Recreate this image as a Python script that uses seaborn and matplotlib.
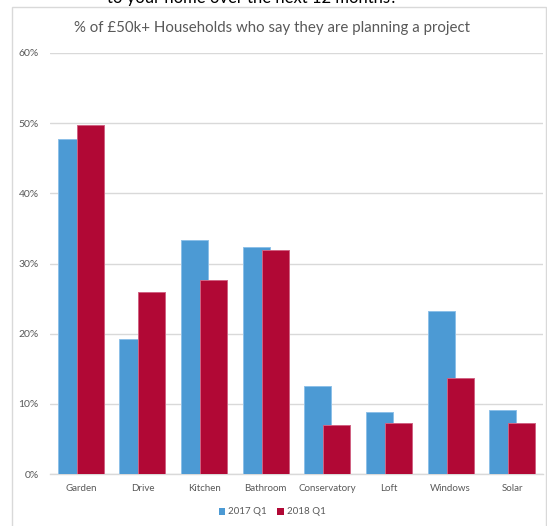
import matplotlib
matplotlib.use("Agg")
import matplotlib.pyplot as plt
import matplotlib.patches as mpatches
from matplotlib.ticker import PercentFormatter
import seaborn as sns
import pandas as pd

categories = ["Garden", "Drive", "Kitchen", "Bathroom", "Conservatory", "Loft", "Windows", "Solar"]
series_names = ["2017 Q1", "2018 Q1"]
values_2017 = [0.477, 0.192, 0.333, 0.323, 0.126, 0.088, 0.232, 0.091]
values_2018 = [0.497, 0.259, 0.276, 0.319, 0.070, 0.072, 0.137, 0.072]
y_ticks = [0, 0.1, 0.2, 0.3, 0.4, 0.5, 0.6]

colors = ["#4C9AD4", "#B10835"]
edges = ["#8DC0E8", "#D06383"]

df = pd.DataFrame({
    "category": categories * 2,
    "series": [series_names[0]] * len(categories) + [series_names[1]] * len(categories),
    "value": values_2017 + values_2018,
})

sns.set_theme(style="white")
plt.rcParams["font.family"] = ["Lato", "DejaVu Sans"]

fig = plt.figure(figsize=(5.47, 5.26), dpi=100)
fig.patch.set_facecolor("white")
ax = fig.add_axes([50 / 547, 1 - 474 / 526, 493 / 547, 421 / 526])

sns.barplot(data=df, x="category", y="value", hue="series", order=categories,
            hue_order=series_names, palette=colors, width=0.8, ax=ax,
            legend=False, saturation=1)

# Excel-like overlapping bars: each bar 0.438 of slot, offsets +/-0.154
bar_w = 0.438
off = 0.154
n = len(categories)
for i, p in enumerate(ax.patches):
    s = i // n
    cx = p.get_x() + p.get_width() / 2
    cat = round(cx)
    new_c = cat + (-off if s == 0 else off)
    p.set_width(bar_w)
    p.set_x(new_c - bar_w / 2)
    p.set_edgecolor(edges[s])
    p.set_linewidth(0.7)
    p.set_zorder(3 + s)

ax.set_xlim(-0.5, n - 0.5)
ax.set_ylim(0, 0.6)
ax.set_yticks(y_ticks)
ax.yaxis.set_major_formatter(PercentFormatter(1.0, decimals=0))
ax.grid(axis="y", color="#D9D9D9", linewidth=1.0, zorder=0)
ax.set_axisbelow(True)
for sp in ["top", "right", "left"]:
    ax.spines[sp].set_visible(False)
ax.spines["bottom"].set_color("#D9D9D9")
ax.spines["bottom"].set_linewidth(1.0)
ax.tick_params(axis="both", length=0, colors="#595959", labelsize=7)
ax.tick_params(axis="y", pad=8, labelsize=7.5)
ax.tick_params(axis="x", pad=7)
ax.set_xlabel("")
ax.set_ylabel("")

# Chart border
fig.patches.append(mpatches.Rectangle((12 / 547, -0.01), 534 / 547, 1 - 7 / 526 + 0.01,
                                      transform=fig.transFigure, fill=False,
                                      edgecolor="#D9D9D9", linewidth=1.0))

# Title
fig.text(272 / 547, 1 - 28 / 526, "% of £50k+ Households who say they are planning a project",
         ha="center", va="center", fontsize=10.8, color="#595959")

# Clipped question text at the very top
fig.text(252 / 547, 1 - 3 / 526, "to your home over the next 12 months?",
         ha="center", va="baseline", fontsize=12, color="black")

handles = [mpatches.Patch(facecolor=c, edgecolor="none", label=l) for c, l in zip(colors, series_names)]
fig.legend(handles=handles, loc="center", bbox_to_anchor=(272 / 547, 1 - 512 / 526),
           ncol=2, frameon=False, fontsize=7, handlelength=0.7, handleheight=0.7,
           handletextpad=0.3, columnspacing=1.0, labelcolor="#595959")

fig.savefig("out.png", dpi=100, facecolor="white")
